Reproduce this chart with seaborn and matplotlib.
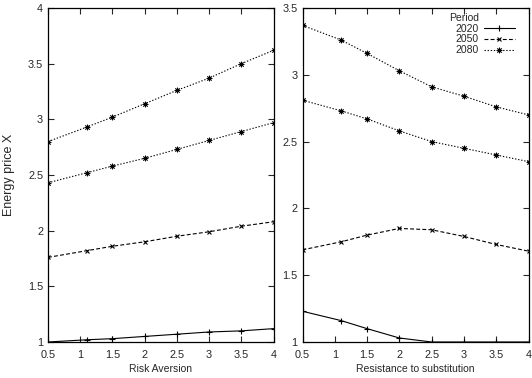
import numpy as np
import pandas as pd
import matplotlib
matplotlib.use("Agg")
import matplotlib.pyplot as plt
import seaborn as sns

# ---- data ----
x_vals = [0.5, 1.1, 1.5, 2.0, 2.5, 3.0, 3.5, 4.0]

risk_2020 = [1.00, 1.02, 1.03, 1.05, 1.07, 1.09, 1.10, 1.12]
risk_2050 = [1.76, 1.82, 1.86, 1.90, 1.95, 1.99, 2.04, 2.08]
risk_extra = [2.43, 2.52, 2.58, 2.65, 2.73, 2.81, 2.89, 2.97]
risk_2080 = [2.80, 2.93, 3.02, 3.14, 3.26, 3.37, 3.50, 3.62]

subst_2020 = [1.23, 1.16, 1.10, 1.03, 1.00, 1.00, 1.00, 1.00]
subst_2050 = [1.69, 1.75, 1.80, 1.85, 1.84, 1.79, 1.73, 1.68]
subst_extra = [2.81, 2.73, 2.67, 2.58, 2.50, 2.45, 2.40, 2.35]
subst_2080 = [3.37, 3.26, 3.16, 3.03, 2.91, 2.84, 2.76, 2.70]

periods = ["2020", "2050", "2080"]
legend_title = "Period"
x_ticks = [0.5, 1, 1.5, 2, 2.5, 3, 3.5, 4]
x_tick_labels = ["0.5", "1", "1.5", "2", "2.5", "3", "3.5", "4"]
left_y_ticks = [1, 1.5, 2, 2.5, 3, 3.5, 4]
left_y_labels = ["1", "1.5", "2", "2.5", "3", "3.5", "4"]
right_y_ticks = [1, 1.5, 2, 2.5, 3, 3.5]
right_y_labels = ["1", "1.5", "2", "2.5", "3", "3.5"]

sns.set_style("ticks")
plt.rcParams['font.family'] = ['Liberation Sans', 'DejaVu Sans']
plt.rcParams['font.size'] = 7.5

fig = plt.figure(figsize=(5.32, 3.78), dpi=100)
axL = fig.add_axes([48/532, 1-342/378, 225.5/532, 334/378])
axR = fig.add_axes([302.5/532, 1-342/378, 226/532, 334/378])

asterisk = (8, 2, 0)
styles = {
    "2020": dict(linestyle="-", marker="+", markersize=5, mew=0.8),
    "2050": dict(linestyle=(0, (3.5, 2)), marker="x", markersize=3.5, mew=0.8),
    "2080": dict(linestyle=(0, (1.2, 1.6)), marker=asterisk, markersize=4, mew=0.6),
    "extra": dict(linestyle=(0, (1.2, 1.6)), marker=asterisk, markersize=4, mew=0.6),
}

def draw(ax, series):
    for name, vals, show in series:
        df = pd.DataFrame({"x": x_vals, "y": vals})
        st = styles[name]
        sns.lineplot(data=df, x="x", y="y", ax=ax, color="black", lw=0.8,
                     linestyle=st["linestyle"], marker=st["marker"],
                     markersize=st["markersize"], markeredgewidth=st["mew"],
                     markeredgecolor="black", markerfacecolor="black",
                     label=name if show else None, legend=False)

draw(axL, [(periods[0], risk_2020, False), (periods[1], risk_2050, False),
           ("extra", risk_extra, False), (periods[2], risk_2080, False)])
draw(axR, [(periods[0], subst_2020, True), (periods[1], subst_2050, True),
           (periods[2], subst_2080, True), ("extra", subst_extra, False)])

for ax, yt, yl, ylim in [(axL, left_y_ticks, left_y_labels, (1, 4)),
                         (axR, right_y_ticks, right_y_labels, (1, 3.5))]:
    ax.set_xlim(0.5, 4)
    ax.set_ylim(*ylim)
    ax.set_xticks(x_ticks)
    ax.set_xticklabels(x_tick_labels)
    ax.set_yticks(yt)
    ax.set_yticklabels(yl)
    ax.tick_params(direction="in", length=4, width=0.8, top=True, right=True,
                   labelsize=7.8)
    ax.tick_params(axis="x", pad=5.5)
    ax.tick_params(axis="y", pad=3.5)
    for s in ax.spines.values():
        s.set_linewidth(0.9)
        s.set_color("black")

axL.set_xlabel("Risk Aversion", fontsize=7.5, labelpad=3)
axL.set_ylabel("Energy price X", fontsize=9, labelpad=9.5)
axR.set_xlabel("Resistance to substitution", fontsize=7.5, labelpad=3)
axR.set_ylabel("")

handles, labels = axR.get_legend_handles_labels()
leg = axR.legend(handles, labels, loc="upper right",
                 bbox_to_anchor=((515 - 302.5) / 226, (342 - 23.5) / 334),
                 frameon=False, markerfirst=False,
                 handlelength=3.0, handletextpad=0.5, labelspacing=0.08,
                 fontsize=7.5, borderpad=0.0, borderaxespad=0.0)
for t in leg.get_texts():
    t.set_ha("right")
axR.text((479.5 - 302.5) / 226, (342 - 18.3) / 334, legend_title,
         transform=axR.transAxes, ha="right", va="center", fontsize=7.5)

fig.savefig("out.png", dpi=100)
